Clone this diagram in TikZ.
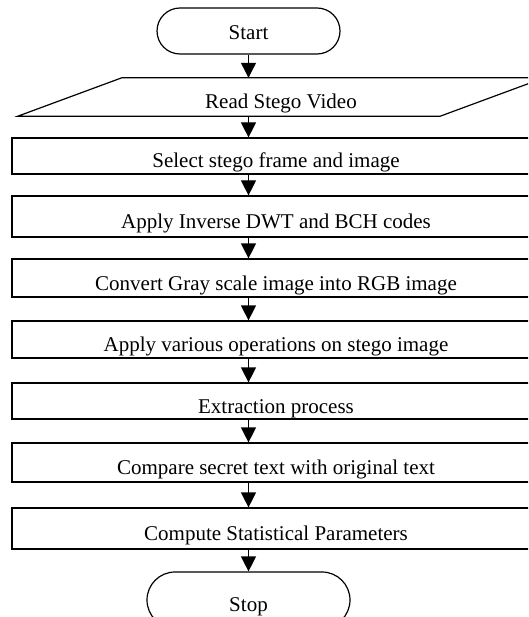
\documentclass[tikz,border=0pt]{standalone}
\usepackage{fontspec}
\setmainfont{Liberation Serif}
\usepackage{tikz}
\usetikzlibrary{arrows.meta,shapes.misc}

\tikzset{
  term/.style={draw, rounded rectangle, line width=1.2pt, inner sep=0pt, text depth=0pt},
  procbox/.style={draw, rectangle, line width=1.2pt, minimum width=528pt, inner sep=0pt, text height=24pt, text depth=0pt},
  iobox/.style={rectangle, minimum width=526pt, minimum height=38pt, inner sep=0pt, text height=24pt, text depth=0pt},
  arr/.style={line width=1.2pt, -{Triangle[width=15pt,length=15pt]}}
}

\begin{document}
\begin{tikzpicture}[x=1pt,y=1pt,font=\fontsize{21}{25}\selectfont]
        \useasboundingbox (0,0) rectangle (528,-617);
        \clip (0,0) rectangle (528,-617);
        % terminals and steps, top to bottom
        \node[term, minimum width=183pt, minimum height=46pt, text height=18pt] (start) at (248.5,-31) {Start};
        \node[iobox] (read) at (281,-97) {Read Stego Video};
        \draw[line width=1.2pt] (read.south west) -- ([xshift=104pt]read.north west) -- (read.north east) -- ([xshift=-104pt]read.south east) -- cycle;
        \node[procbox, minimum height=36pt] (select) at (276,-156) {Select stego frame and image};
        \node[procbox, minimum height=41pt] (inverse) at (276,-216.5) {Apply Inverse DWT and BCH codes};
        \node[procbox, minimum height=38pt] (convert) at (276,-278) {Convert Gray scale image into RGB image};
        \node[procbox, minimum height=37pt] (ops) at (276,-339.5) {Apply various operations on stego image};
        \node[procbox, minimum height=36pt] (extract) at (276,-401) {Extraction process};
        \node[procbox, minimum height=39pt] (compare) at (276,-462.5) {Compare secret text with original text};
        \node[procbox, minimum height=41pt] (stats) at (276,-528.5) {Compute Statistical Parameters};
        \node[term, minimum width=203pt, minimum height=56pt, text height=22pt] (stop) at (248.5,-600) {Stop};
        % arrows down the middle
        \foreach \a/\b in {start/read, read/select, select/inverse, inverse/convert, convert/ops, ops/extract, extract/compare, compare/stats, stats/stop}
        \draw[arr] (\a.south -| start) -- (\b.north -| start);
    \end{tikzpicture}
\end{document}
